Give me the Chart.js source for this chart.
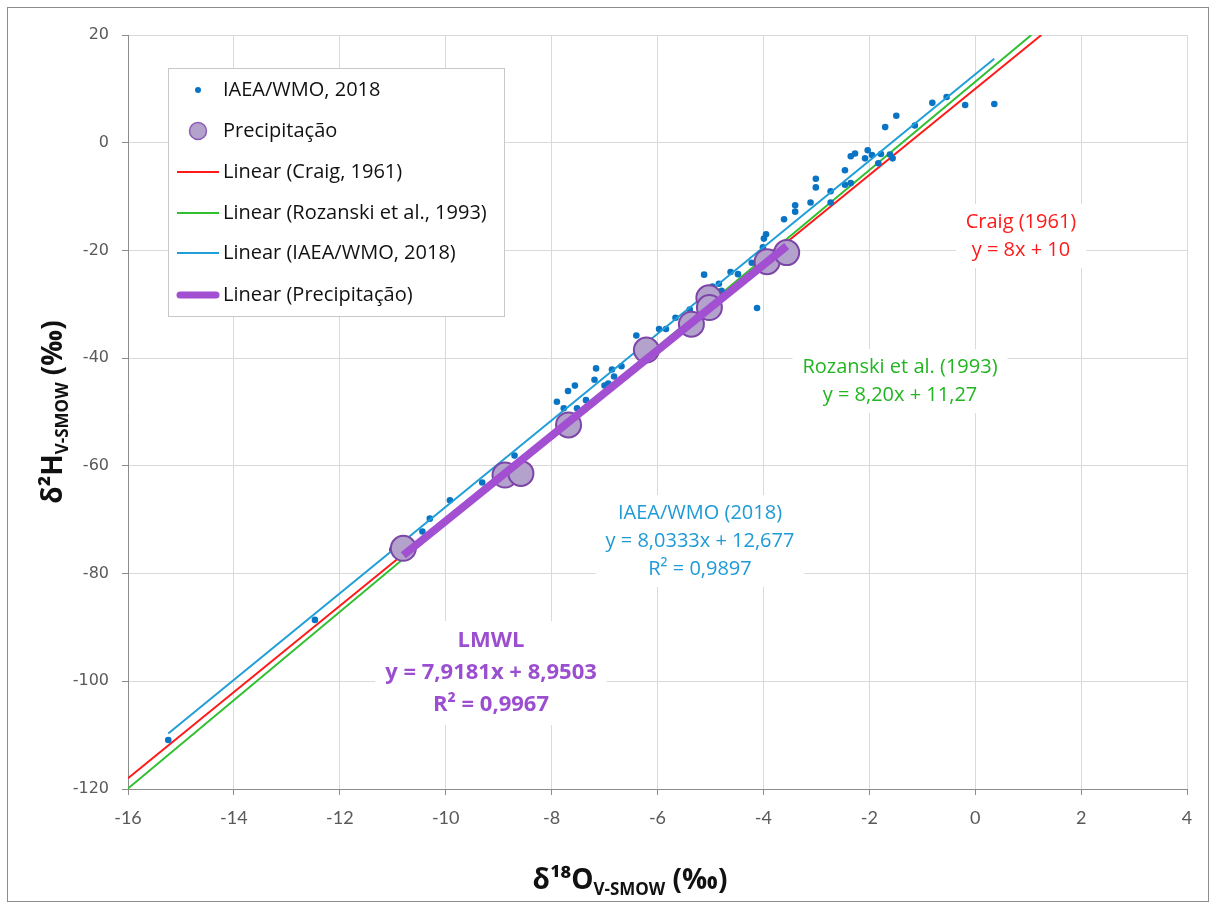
<!DOCTYPE html>
<html>
<head>
<meta charset="utf-8">
<script src="https://cdn.jsdelivr.net/npm/chart.js@4/dist/chart.umd.min.js"></script>
<style>
  html, body { margin: 0; padding: 0; background: #fff; }
  #wrap { position: relative; width: 1216px; height: 909px; }
</style>
</head>
<body>
<div id="wrap"><canvas id="isoChart" width="1216" height="909"></canvas></div>
<script>
// ─── data ───
const xTicks = [-16, -14, -12, -10, -8, -6, -4, -2, 0, 2, 4];
const yTicks = [-120, -100, -80, -60, -40, -20, 0, 20];

// IAEA/WMO, 2018 (small blue dots)
const iaeaX = [-15.24, -12.47, -11.01, -10.44, -10.30, -9.92, -9.31, -8.70, -7.90, -7.77,
               -7.69, -7.56, -7.52, -7.35, -7.19, -7.16, -7.00, -6.93, -6.86, -6.82,
               -6.68, -6.40, -5.97, -5.84, -5.66, -5.39, -5.12, -4.96, -4.84, -4.79,
               -4.62, -4.48, -4.22, -4.12, -4.01, -3.99, -3.95, -3.61, -3.40, -3.40,
               -3.11, -3.01, -3.01, -2.73, -2.73, -2.46, -2.46, -2.35, -2.35, -2.27,
               -2.08, -2.03, -1.95, -1.83, -1.78, -1.61, -1.56, -1.70, -1.49, -1.14,
               -0.81, -0.54, -0.19, 0.36];
const iaeaY = [-110.9, -88.6, -75.6, -72.2, -69.8, -66.4, -63.1, -58.1, -48.1, -49.3,
               -46.1, -45.1, -49.3, -47.8, -44.0, -41.9, -45.1, -44.7, -42.1, -43.4,
               -41.5, -35.8, -34.6, -34.6, -32.5, -31.0, -24.5, -26.7, -26.2, -27.5,
               -24.0, -24.4, -22.3, -30.7, -19.4, -17.8, -17.0, -14.2, -12.8, -11.6,
               -11.1, -8.3, -6.7, -11.1, -9.0, -7.8, -5.1, -7.5, -2.5, -2.0,
               -2.9, -1.4, -2.3, -3.8, -2.1, -2.2, -2.9, 2.9, 5.0, 3.2,
               7.4, 8.5, 7.0, 7.2];

// Precipitação (large purple circles)
const precipX = [-10.80, -8.88, -8.58, -7.68, -6.21, -5.36, -5.03, -5.02, -3.93, -3.56];
const precipY = [-75.3, -61.7, -61.4, -52.4, -38.5, -33.7, -28.8, -30.6, -22.1, -20.4];

// trend line end points as drawn
const craigX = [-16, 1.25],      craigY = [-118, 20];
const rozX = [-16, 1.06],        rozY = [-119.9, 20];
const iaeaFitX = [-15.24, 0.36], iaeaFitY = [-109.7, 15.6];
const precFitX = [-10.8, -3.56], precFitY = [-76.6, -19.2];

function pts(xs, ys) { return xs.map(function(x, i) { return { x: x, y: ys[i] }; }); }

const RED = '#ff1a1a', GREEN = '#2fbf2f', BLUE = '#1f9ed8', PURPLE = '#a24fd1';
const DOT = '#0a74c4';
const TXT = "'Open Sans', Lato, sans-serif";

// annotations, legend, axis titles and frame
const decor = {
    id: 'decor',
    afterDraw(chart) {
        const c = chart.ctx;
        c.save();

        // outer frame
        c.strokeStyle = '#8c8c8c';
        c.lineWidth = 1;
        c.strokeRect(7.5, 7.5, 1201, 894);

        // text boxes with white background
        function block(lines, cx, cy0, step, color, font, padX) {
            c.font = font;
            let w = 0;
            lines.forEach(function(l) { w = Math.max(w, c.measureText(l).width); });
            c.fillStyle = '#fff';
            c.fillRect(cx - w / 2 - padX, cy0 - step / 2 - 4, w + padX * 2, step * lines.length + 8);
            c.fillStyle = color;
            c.textAlign = 'center';
            c.textBaseline = 'middle';
            lines.forEach(function(l, i) { c.fillText(l, cx, cy0 + i * step); });
        }
        block(['Craig (1961)', 'y = 8x + 10'], 1021, 222, 28, RED, '20px ' + TXT, 10);
        block(['Rozanski et al. (1993)', 'y = 8,20x + 11,27'], 900, 367, 28, '#22b522', '20px ' + TXT, 10);
        block(['IAEA/WMO (2018)', 'y = 8,0333x + 12,677', 'R² = 0,9897'], 700, 513, 28, '#1e9ad6', '20px ' + TXT, 10);
        block(['LMWL', 'y = 7,9181x + 8,9503', 'R² = 0,9967'], 491, 641, 32, '#9b4fd0', 'bold 22px ' + TXT, 10);

        // legend
        c.fillStyle = '#fff';
        c.fillRect(168, 68, 336, 248);
        c.strokeStyle = '#c8c8c8';
        c.strokeRect(168.5, 68.5, 336, 248);
        const ly = [90, 131, 172, 213, 253, 295];
        const names = ['IAEA/WMO, 2018', 'Precipitação', 'Linear (Craig, 1961)',
                       'Linear (Rozanski et al., 1993)', 'Linear (IAEA/WMO, 2018)', 'Linear (Precipitação)'];
        c.fillStyle = DOT;
        c.beginPath(); c.arc(198, ly[0], 3, 0, Math.PI * 2); c.fill();
        c.fillStyle = '#b3a2cb'; c.strokeStyle = '#8a5bb5'; c.lineWidth = 1.5;
        c.beginPath(); c.arc(198, ly[1], 8.5, 0, Math.PI * 2); c.fill(); c.stroke();
        [[RED, 2, ly[2]], [GREEN, 2, ly[3]], [BLUE, 2, ly[4]], [PURPLE, 7, ly[5]]].forEach(function(s) {
            c.strokeStyle = s[0]; c.lineWidth = s[1]; c.lineCap = s[1] > 3 ? 'round' : 'butt';
            c.beginPath(); c.moveTo(s[1] > 3 ? 180 : 177, s[2]); c.lineTo(s[1] > 3 ? 216 : 219, s[2]); c.stroke();
        });
        c.lineCap = 'butt';
        c.fillStyle = '#111';
        c.font = '20px ' + TXT;
        c.textAlign = 'left';
        c.textBaseline = 'middle';
        names.forEach(function(n, i) { c.fillText(n, 223, ly[i]); });

        // axis titles with subscripts
        function title(parts) {
            let w = 0;
            parts.forEach(function(p) { c.font = p[1]; w += c.measureText(p[0]).width; });
            let x = -w / 2;
            c.textAlign = 'left';
            c.textBaseline = 'alphabetic';
            parts.forEach(function(p) {
                c.font = p[1];
                c.fillText(p[0], x, p[2]);
                x += c.measureText(p[0]).width;
            });
        }
        const big = 'bold 28px ' + TXT, sub = 'bold 17px ' + TXT;
        c.fillStyle = '#111';
        c.save();
        c.translate(630, 889);
        title([['δ¹⁸O', big, 0], ['V-SMOW', sub, 6], [' (‰)', big, 0]]);
        c.restore();
        c.save();
        c.translate(62, 412);
        c.rotate(-Math.PI / 2);
        title([['δ²H', big, 0], ['V-SMOW', sub, 6], [' (‰)', big, 0]]);
        c.restore();

        c.restore();
    }
};

const ctx = document.getElementById('isoChart').getContext('2d');
new Chart(ctx, {
    type: 'scatter',
    data: {
        datasets: [
            {
                label: 'Linear (Precipitação)',
                type: 'line',
                data: pts(precFitX, precFitY),
                borderColor: PURPLE,
                borderWidth: 8,
                pointRadius: 0,
                order: 0
            },
            {
                label: 'Precipitação',
                data: pts(precipX, precipY),
                backgroundColor: '#b3a2cb',
                borderColor: '#7d45a8',
                borderWidth: 2,
                pointRadius: 12.5,
                order: 1
            },
            {
                label: 'Linear (IAEA/WMO, 2018)',
                type: 'line',
                data: pts(iaeaFitX, iaeaFitY),
                borderColor: BLUE,
                borderWidth: 2,
                pointRadius: 0,
                order: 2
            },
            {
                label: 'IAEA/WMO, 2018',
                data: pts(iaeaX, iaeaY),
                backgroundColor: DOT,
                borderColor: DOT,
                borderWidth: 0,
                pointRadius: 3.3,
                order: 3
            },
            {
                label: 'Linear (Rozanski et al., 1993)',
                type: 'line',
                data: pts(rozX, rozY),
                borderColor: GREEN,
                borderWidth: 2,
                pointRadius: 0,
                order: 4
            },
            {
                label: 'Linear (Craig, 1961)',
                type: 'line',
                data: pts(craigX, craigY),
                borderColor: RED,
                borderWidth: 2,
                pointRadius: 0,
                order: 5
            }
        ]
    },
    options: {
        responsive: false,
        animation: false,
        layout: { padding: { left: 0, top: 35, right: 29, bottom: 80 } },
        plugins: {
            legend: { display: false },
            tooltip: { enabled: false }
        },
        scales: {
            x: {
                type: 'linear',
                min: -16, max: 4,
                afterFit: function(s) { s.height = 40; },
                afterBuildTicks: function(s) { s.ticks = xTicks.map(function(v) { return { value: v }; }); },
                grid: { color: '#d9d9d9', tickColor: '#8c8c8c', tickLength: 6, lineWidth: 1 },
                border: { color: '#8c8c8c', width: 1 },
                ticks: {
                    color: '#595959',
                    padding: 12,
                    font: { family: "'Liberation Sans Narrow', Lato, sans-serif", size: 18 },
                    maxRotation: 0
                }
            },
            y: {
                type: 'linear',
                min: -120, max: 20,
                afterFit: function(s) { s.width = 128; },
                afterBuildTicks: function(s) { s.ticks = yTicks.map(function(v) { return { value: v }; }); },
                grid: { color: '#d9d9d9', tickColor: '#8c8c8c', tickLength: 6, lineWidth: 1 },
                border: { color: '#8c8c8c', width: 1 },
                ticks: {
                    color: '#595959',
                    padding: 13,
                    font: { family: "'DejaVu Sans', sans-serif", size: 16 }
                }
            }
        }
    },
    plugins: [decor]
});
</script>
</body>
</html>
